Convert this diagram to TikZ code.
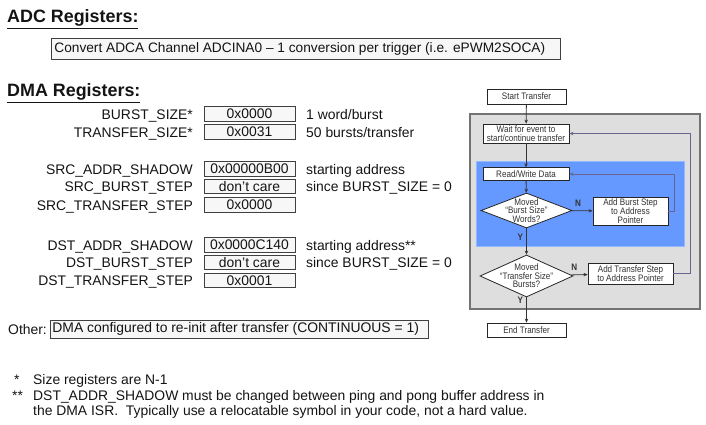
\documentclass[tikz,border=0pt]{standalone}
\usepackage{fontspec}
\setmainfont{Liberation Sans}
\newfontfamily\narrowfont[FakeStretch=0.86]{Liberation Sans}
\usetikzlibrary{shapes.geometric,arrows.meta}
\definecolor{fcblue}{RGB}{102,153,255}
\definecolor{fcgray}{RGB}{222,222,222}
\definecolor{fcborder}{RGB}{115,115,115}
\definecolor{txt}{RGB}{20,20,20}
\tikzset{
  title/.style={anchor=west,inner sep=0pt,font=\fontsize{17.9}{20}\selectfont\bfseries,text=txt},
  lbl/.style={anchor=base east,inner sep=0pt,font=\fontsize{13.9}{16}\selectfont,text=txt},
  cmt/.style={anchor=base west,inner sep=0pt,font=\fontsize{13.9}{16}\selectfont,text=txt},
  valbox/.style={draw=black!75,fill=black!3,line width=0.8pt,minimum width=91pt,minimum height=14.5pt,inner sep=0pt,font=\fontsize{13.9}{16}\selectfont,text=txt},
  widebox/.style={draw=black!75,fill=black!3,line width=0.8pt,inner ysep=0pt,inner xsep=3pt,anchor=west,text=txt,text depth=3.5pt,text height=11pt},
  fcbox/.style={draw=black!85,fill=white,line width=0.8pt,inner sep=0pt,align=center,font=\narrowfont\fontsize{9.4}{9.2}\selectfont,text=black!80},
  fcdia/.style={draw=black!85,fill=white,line width=0.8pt,shape=diamond,inner sep=0pt},
  fctext/.style={inner sep=0pt,align=center,font=\narrowfont\fontsize{9.4}{8.6}\selectfont,text=black!80},
  yn/.style={inner sep=0pt,font=\narrowfont\fontsize{9.4}{9}\selectfont\bfseries,text=black!80},
  flow/.style={line width=0.8pt,draw=black!80,-{Stealth[length=4pt,width=3.5pt]}},
  loopline/.style={line width=1pt,draw=black!75!blue!60,-{Stealth[length=4pt,width=3.5pt]}},
  foot/.style={anchor=base west,inner sep=0pt,font=\fontsize{13.9}{16}\selectfont,text=txt}
}
\begin{document}
\begin{tikzpicture}[x=1pt,y=-1pt]
\useasboundingbox (0,0) rectangle (706,424);
% ---- titles
\node[title] (adct) at (7,19) {\underline{ADC Registers:}};
\node[widebox,minimum height=21pt,font=\fontsize{13.7}{16}\selectfont] (adcbox) at (51,48.5) {\makebox[503pt][l]{Convert ADCA Channel ADCINA0 -- 1 conversion per trigger (i.e. ePWM2SOCA)}};
\node[title] (dmat) at (7,93) {\underline{DMA Registers:}};
% ---- register rows
\node[lbl] (l1) at (193,119) {BURST\_SIZE*};
\node[valbox] (v1) at (249.5,114) {0x0000};
\node[cmt] (c1) at (306,119) {1 word/burst};
\node[lbl] (l2) at (193,137) {TRANSFER\_SIZE*};
\node[valbox] (v2) at (249.5,132) {0x0031};
\node[cmt] (c2) at (306,137) {50 bursts/transfer};
\node[lbl] (l3) at (193,174) {SRC\_ADDR\_SHADOW};
\node[valbox] (v3) at (249.5,169) {0x00000B00};
\node[cmt] (c3) at (306,174) {starting address};
\node[lbl] (l4) at (193,191.5) {SRC\_BURST\_STEP};
\node[valbox] (v4) at (249.5,186.5) {don't care};
\node[cmt] (c4) at (306,191.5) {since BURST\_SIZE = 0};
\node[lbl] (l5) at (193,210) {SRC\_TRANSFER\_STEP};
\node[valbox] (v5) at (249.5,205) {0x0000};
\node[lbl] (l6) at (193,250) {DST\_ADDR\_SHADOW};
\node[valbox] (v6) at (249.5,245) {0x0000C140};
\node[cmt] (c6) at (306,250) {starting address**};
\node[lbl] (l7) at (193,267.5) {DST\_BURST\_STEP};
\node[valbox] (v7) at (249.5,262.5) {don't care};
\node[cmt] (c7) at (306,267.5) {since BURST\_SIZE = 0};
\node[lbl] (l8) at (193,285.5) {DST\_TRANSFER\_STEP};
\node[valbox] (v8) at (249.5,280.5) {0x0001};
\node[cmt] (oth) at (8,334) {Other:};
\node[widebox,minimum height=18pt,font=\fontsize{13.9}{16}\selectfont,inner xsep=2pt] (othbox) at (50,329) {\makebox[374pt][l]{DMA configured to re-init after transfer (CONTINUOUS = 1)}};
% ---- footnotes
\node[foot] (f1s) at (14,384) {*};
\node[foot] (f1) at (33,384) {Size registers are N-1};
\node[foot] (f2s) at (12,400) {**};
\node[foot] (f2) at (33,400) {DST\_ADDR\_SHADOW must be changed between ping and pong buffer address in};
\node[foot] (f3) at (33,415.5) {the DMA ISR.\ \ Typically use a relocatable symbol in your code, not a hard value.};
% ---- flowchart backgrounds
\filldraw[fill=fcgray,draw=fcborder,line width=1.8pt] (470,114) rectangle (700,309);
\filldraw[fill=fcblue,draw=fcblue!70!white,line width=0.8pt] (476,161) rectangle (684,246);
% ---- flowchart nodes
\node[fcbox,minimum width=79pt,minimum height=15pt] (start) at (526.5,96.5) {Start Transfer};
\node[fcbox,minimum width=86pt,minimum height=19pt] (wait) at (526,133.5) {Wait for event to\\start/continue transfer};
\node[fcbox,minimum width=86pt,minimum height=12.5pt] (rw) at (526,174) {Read/Write Data};
\node[fcdia,minimum width=91pt,minimum height=35pt] (d1) at (526.5,210.5) {};
\node[fctext] (d1t) at (d1.center) {Moved\\“Burst Size”\\Words?};
\node[fcbox,minimum width=75pt,minimum height=28pt] (burst) at (630.5,211) {Add Burst Step\\to Address\\Pointer};
\node[fcdia,minimum width=93pt,minimum height=42pt] (d2) at (526.5,276) {};
\node[fctext] (d2t) at (d2.center) {Moved\\“Transfer Size”\\Bursts?};
\node[fcbox,minimum width=85pt,minimum height=21pt] (xfer) at (630.5,273.5) {Add Transfer Step\\to Address Pointer};
\node[fcbox,minimum width=79pt,minimum height=14pt] (endt) at (526.5,330) {End Transfer};
% ---- loop corners
\coordinate (k1) at (674,211);
\coordinate (k2) at (690,273.5);
% ---- connectors
\draw[flow] (start) -- (wait);
\draw[flow] (wait) -- (rw);
\draw[flow] (rw) -- (d1);
\draw[flow] (d1) -- node[yn,pos=0.33,left=3pt] {Y} (d2);
\draw[flow] (d2) -- node[yn,pos=0.12,left=3pt] {Y} (endt);
\draw[flow] (d1) -- node[yn,pos=0.3,above=4pt] {N} (burst);
\draw[flow] (d2) -- node[yn,pos=0.2,above=4pt] {N} (xfer);
\draw[loopline] (burst.east) -- (k1) |- (rw.east);
\draw[loopline] (xfer.east) -- (k2) |- (wait.east);
\end{tikzpicture}
\end{document}
